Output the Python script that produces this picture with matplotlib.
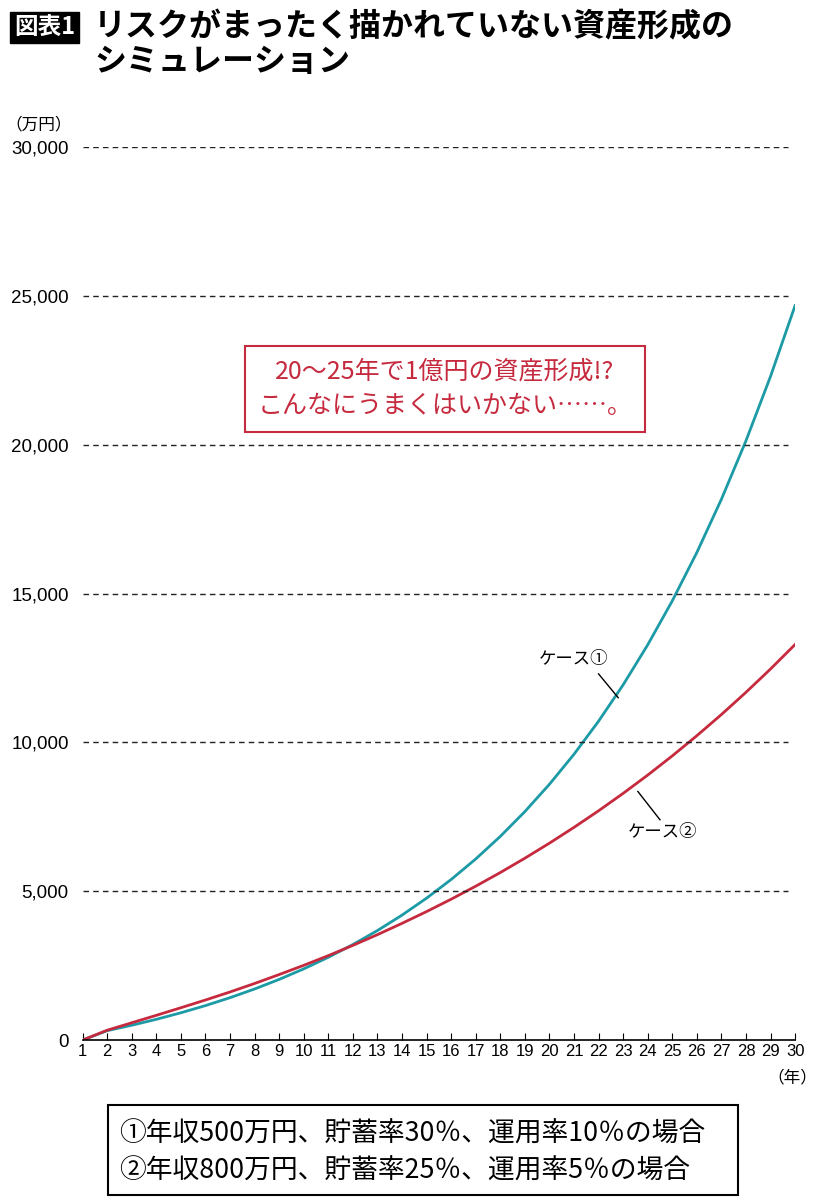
import matplotlib.pyplot as plt
from matplotlib.patches import Rectangle

plt.rcParams['font.family'] = ['Noto Sans CJK JP', 'DejaVu Sans']

# --- データ（図から読み取った値, 万円） ---
years = list(range(1, 31))
case1 = [0, 315, 497, 696, 916, 1157, 1423, 1715, 2037, 2391,
         2780, 3208, 3678, 4196, 4766, 5393, 6082, 6840, 7674, 8591,
         9600, 10710, 11931, 13275, 14752, 16377, 18165, 20131, 22294, 24674]
case2 = [0, 330, 580, 830, 1085, 1345, 1615, 1900, 2200, 2510,
         2835, 3180, 3540, 3920, 4316, 4731, 5168, 5626, 6108, 6613,
         7144, 7701, 8286, 8900, 9545, 10223, 10934, 11681, 12465, 13288]
y_ticks = [0, 5000, 10000, 15000, 20000, 25000, 30000]
y_labels = ['0', '5,000', '10,000', '15,000', '20,000', '25,000', '30,000']

TEAL = '#1c9aa5'
RED = '#c62a3e'

fig = plt.figure(figsize=(8.18, 12), dpi=100)
ax = fig.add_axes([0.101, 0.1333, 0.871, 0.7442])

ax.plot(years, case1, color=TEAL, lw=2)
ax.plot(years, case2, color=RED, lw=2)

ax.set_xlim(1, 30)
ax.set_ylim(0, 30000)
ax.set_xticks(years)
ax.set_xticklabels([str(y) for y in years], fontsize=12, fontfamily=['Liberation Sans'])
ax.set_yticks(y_ticks)
ax.set_yticklabels(y_labels, fontsize=13.5, fontfamily=['Liberation Sans'])
for t in y_ticks[1:]:
    ax.axhline(t, color='#222222', lw=1, ls=(0, (4, 3)), xmax=0.99)
for s in ['top', 'right', 'left']:
    ax.spines[s].set_visible(False)
ax.spines['bottom'].set_linewidth(1.2)
ax.tick_params(axis='y', length=0, pad=10)
ax.tick_params(axis='x', direction='in', length=5, pad=3)

ax.text(-0.015, 1.02, '（万円）', transform=ax.transAxes, fontsize=12, ha='right')
ax.text(29.9, -1000, '（年）', fontsize=12, ha='center', va='top')

# タイトル
fig.text(0.017, 0.977, '図表1', fontsize=17, color='white', fontweight='bold', va='center',
         bbox=dict(boxstyle='square,pad=0.15', fc='black', ec='black'))
fig.text(0.115, 0.977, 'リスクがまったく描かれていない資産形成の', fontsize=23, va='center', fontweight='bold')
fig.text(0.115, 0.948, 'シミュレーション', fontsize=23, va='center', fontweight='bold')

# 注記ボックス
fig.text(0.544, 0.676, '20〜25年で1億円の資産形成!?\nこんなにうまくはいかない……。', fontsize=18,
         color=RED, ha='center', va='center', linespacing=1.45,
         bbox=dict(boxstyle='square,pad=0.5', fc='white', ec=RED, lw=1.5))

# ケースラベル
ax.text(21.0, 12800, 'ケース①', fontsize=12.5, ha='center', va='center')
ax.plot([22.0, 22.8], [12300, 11500], color='black', lw=1)
ax.text(24.6, 6980, 'ケース②', fontsize=12.5, ha='center', va='center')
ax.plot([23.6, 24.5], [8350, 7400], color='black', lw=1)

# 凡例ボックス
fig.patches.append(Rectangle((0.132, 0.004), 0.77, 0.075, transform=fig.transFigure,
                             fill=False, ec='black', lw=1.5))
fig.text(0.145, 0.055, '①年収500万円、貯蓄率30％、運用率10％の場合', fontsize=19.3, va='center')
fig.text(0.145, 0.024, '②年収800万円、貯蓄率25％、運用率5％の場合', fontsize=19.3, va='center')

fig.savefig('out.png', dpi=100)
